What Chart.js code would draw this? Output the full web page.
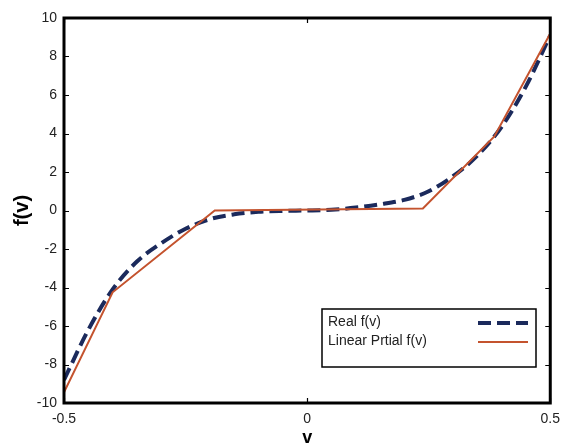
<!DOCTYPE html>
<html>
<head>
<meta charset="utf-8">
<script src="https://cdn.jsdelivr.net/npm/chart.js@4/dist/chart.umd.min.js"></script>
<style>
  html, body { margin: 0; padding: 0; background: #fff; }
  #wrap { width: 568px; height: 445px; position: relative; }
</style>
</head>
<body>
<div id="wrap"><canvas id="c" width="568" height="445"></canvas></div>
<script>
// ---- data ----
const seriesNames = ['Real f(v)', 'Linear Prtial f(v)'];
const vReal = [-0.5, -0.45, -0.4, -0.35, -0.3, -0.25, -0.2, -0.15, -0.1, -0.05, 0,
               0.05, 0.1, 0.15, 0.2, 0.25, 0.3, 0.35, 0.4, 0.45, 0.5];
const fReal = [-8.8, -6.2, -4.1, -2.65, -1.7, -0.95, -0.45, -0.2, -0.07, -0.02, 0,
               0.04, 0.15, 0.32, 0.55, 1.0, 1.78, 2.85, 4.35, 6.45, 9.1];
const vLinear = [-0.5, -0.4, -0.19, 0.238, 0.385, 0.5];
const fLinear = [-9.45, -4.25, 0.0, 0.1, 3.85, 9.2];
const xTicks = [-0.5, 0, 0.5];
const yTicks = [-10, -8, -6, -4, -2, 0, 2, 4, 6, 8, 10];

const BLUE = '#1b2a5c';
const RED = '#c4532e';
const FONT = 'Liberation Sans, Arial, sans-serif';

const framePlugin = {
  id: 'frame',
  afterDatasetsDraw(chart) {
    const {ctx, chartArea: a, scales} = chart;
    ctx.save();
    ctx.strokeStyle = '#000';
    ctx.lineWidth = 1.2;
    const L = 5;
    yTicks.forEach(t => {
      const y = Math.round(scales.y.getPixelForValue(t)) + 0.5;
      ctx.beginPath();
      ctx.moveTo(a.left, y); ctx.lineTo(a.left + L, y);
      ctx.moveTo(a.right, y); ctx.lineTo(a.right - L, y);
      ctx.stroke();
    });
    xTicks.forEach(t => {
      const x = Math.round(scales.x.getPixelForValue(t)) + 0.5;
      ctx.beginPath();
      ctx.moveTo(x, a.bottom); ctx.lineTo(x, a.bottom - L);
      ctx.moveTo(x, a.top); ctx.lineTo(x, a.top + L);
      ctx.stroke();
    });
    ctx.lineWidth = 3;
    ctx.strokeRect(a.left, a.top, a.right - a.left, a.bottom - a.top);
    ctx.restore();
  },
  afterDraw(chart) {
    const {ctx, chartArea: a} = chart;
    const ds = chart.data.datasets;
    const bx = a.left + 258, by = a.top + 291, bw = 214, bh = 58;
    ctx.save();
    ctx.fillStyle = '#fff';
    ctx.fillRect(bx, by, bw, bh);
    ctx.strokeStyle = '#000';
    ctx.lineWidth = 1.5;
    ctx.strokeRect(bx, by, bw, bh);
    ctx.font = '14px ' + FONT;
    ctx.textBaseline = 'middle';
    ctx.fillStyle = '#222';
    const rows = [by + 13, by + 32];
    ds.forEach((d, i) => {
      ctx.fillText(d.label, bx + 6, rows[i]);
      ctx.beginPath();
      ctx.strokeStyle = d.borderColor;
      ctx.lineWidth = d.borderWidth;
      ctx.setLineDash(d.borderDash || []);
      ctx.moveTo(bx + 156, rows[i] + 1);
      ctx.lineTo(bx + 206, rows[i] + 1);
      ctx.stroke();
    });
    ctx.restore();
  }
};

new Chart(document.getElementById('c'), {
  type: 'scatter',
  data: {
    datasets: [
      {
        label: seriesNames[0],
        data: vReal.map((v, i) => ({x: v, y: fReal[i]})),
        showLine: true,
        borderColor: BLUE,
        borderWidth: 4,
        borderDash: [13, 6],
        pointRadius: 0,
        cubicInterpolationMode: 'monotone',
        fill: false,
        order: 2
      },
      {
        label: seriesNames[1],
        data: vLinear.map((v, i) => ({x: v, y: fLinear[i]})),
        showLine: true,
        borderColor: RED,
        borderWidth: 2,
        pointRadius: 0,
        tension: 0,
        fill: false,
        order: 1
      }
    ]
  },
  options: {
    responsive: false,
    animation: false,
    devicePixelRatio: 1,
    layout: { padding: { left: 0, right: 11, top: 18, bottom: 0 } },
    plugins: { legend: { display: false }, tooltip: { enabled: false } },
    scales: {
      x: {
        type: 'linear', min: -0.5, max: 0.5,
        afterBuildTicks: s => { s.ticks = xTicks.map(v => ({value: v})); },
        afterFit: s => { s.height = 42; },
        grid: { display: false, drawTicks: false },
        border: { display: false },
        ticks: { padding: 8, color: '#222', font: { family: FONT, size: 14 } },
        title: { display: true, text: 'v', color: '#000', padding: { top: 0, bottom: -4 },
                 font: { family: FONT, size: 18, weight: 'bold' } }
      },
      y: {
        type: 'linear', min: -10, max: 10,
        afterBuildTicks: s => { s.ticks = yTicks.map(v => ({value: v})); },
        afterFit: s => { s.width = 64; },
        grid: { display: false, drawTicks: false },
        border: { display: false },
        ticks: { padding: 7, color: '#222', font: { family: FONT, size: 14 } },
        title: { display: true, text: 'f(v)', color: '#000', padding: { top: 10, bottom: 0 },
                 font: { family: FONT, size: 20, weight: 'bold' } }
      }
    }
  },
  plugins: [framePlugin]
});
</script>
</body>
</html>
